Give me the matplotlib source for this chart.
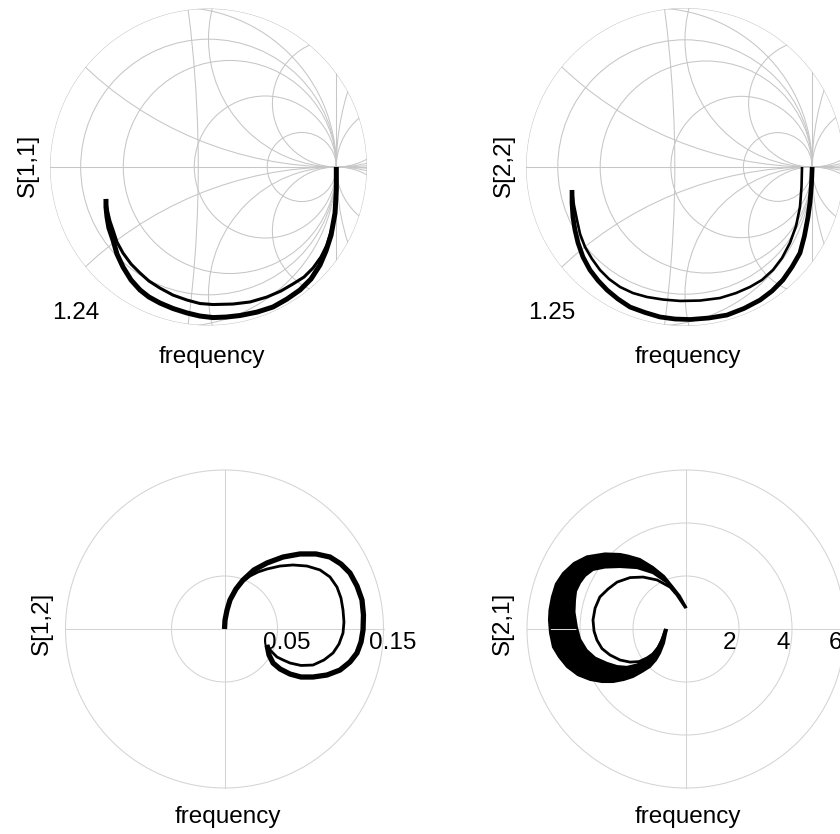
import numpy as np
import matplotlib.pyplot as plt
from matplotlib.patches import Circle

plt.rcParams['font.family'] = ['Liberation Sans', 'DejaVu Sans']

W, H, DPI = 840, 834, 100
FS = 17.5
GRID = '#c6c6c6'
PGRID = '#d4d4d4'

# reflection traces, complex plane (real, imag)
s11_outer_re = [1.0, 1.0, 0.990, 0.959, 0.919, 0.872, 0.802, 0.716, 0.614, 0.505, 0.380, 0.246, 0.137, 0.035,
                -0.067, -0.168, -0.278, -0.380, -0.466, -0.536, -0.606, -0.669, -0.716, -0.747, -0.779, -0.794,
                -0.802, -0.802]
s11_outer_im = [0.0, -0.18, -0.360, -0.532, -0.657, -0.767, -0.876, -0.962, -1.033, -1.095, -1.135, -1.162, -1.174,
                -1.178, -1.166, -1.142, -1.107, -1.064, -1.017, -0.962, -0.884, -0.782, -0.681, -0.571, -0.477,
                -0.391, -0.313, -0.250]
s11_inner_re = [1.0, 1.0, 0.990, 0.962, 0.927, 0.880, 0.818, 0.747, 0.661, 0.567, 0.458, 0.325, 0.192, 0.035,
                -0.067, -0.168, -0.278, -0.380, -0.466, -0.536, -0.606, -0.669, -0.716, -0.747, -0.771, -0.786,
                -0.798, -0.802]
s11_inner_im = [0.0, -0.18, -0.360, -0.493, -0.610, -0.704, -0.790, -0.861, -0.915, -0.970, -1.017, -1.056, -1.072,
                -1.076, -1.068, -1.041, -1.002, -0.947, -0.892, -0.829, -0.759, -0.673, -0.587, -0.493, -0.423,
                -0.360, -0.297, -0.250]

s22_outer_re = [1.0, 0.994, 0.983, 0.967, 0.939, 0.904, 0.841, 0.770, 0.684, 0.590, 0.464, 0.330, 0.189, 0.039,
                -0.079, -0.197, -0.314, -0.432, -0.527, -0.613, -0.684, -0.747, -0.802, -0.841, -0.865, -0.881,
                -0.888, -0.888]
s22_outer_im = [0.0, -0.142, -0.275, -0.393, -0.542, -0.676, -0.786, -0.888, -0.975, -1.046, -1.112, -1.164, -1.187,
                -1.199, -1.195, -1.179, -1.144, -1.101, -1.038, -0.967, -0.892, -0.810, -0.708, -0.597, -0.495,
                -0.393, -0.283, -0.181]
s22_inner_re = [0.920, 0.916, 0.904, 0.873, 0.825, 0.763, 0.692, 0.605, 0.511, 0.401, 0.275, 0.118, -0.039, -0.173,
                -0.299, -0.409, -0.511, -0.597, -0.668, -0.731, -0.786, -0.825, -0.849, -0.873, -0.888]
s22_inner_im = [0.0, -0.157, -0.314, -0.464, -0.597, -0.715, -0.809, -0.888, -0.943, -0.991, -1.030, -1.050, -1.053,
                -1.042, -1.022, -0.991, -0.943, -0.881, -0.810, -0.723, -0.629, -0.527, -0.417, -0.299, -0.181]

# transmission traces
s12_outer_re = [0.0, 0.0005, 0.0024, 0.0052, 0.0108, 0.0175, 0.0278, 0.0401, 0.0552, 0.0712, 0.0863, 0.0995,
                0.1099, 0.1184, 0.1250, 0.1297, 0.1311, 0.1307, 0.1288, 0.1250, 0.1184, 0.1090, 0.0967, 0.0835,
                0.0722, 0.0618, 0.0524, 0.0458, 0.0420, 0.0401]
s12_outer_im = [0.0, 0.0085, 0.0179, 0.0274, 0.0377, 0.0462, 0.0557, 0.0623, 0.0679, 0.0708, 0.0708, 0.0679,
                0.0613, 0.0528, 0.0406, 0.0274, 0.0132, -0.0009, -0.0123, -0.0226, -0.0311, -0.0387, -0.0434,
                -0.0453, -0.0453, -0.0425, -0.0377, -0.0321, -0.0245, -0.0151]
s12_inner_re = [0.0, 0.0005, 0.0024, 0.0052, 0.0099, 0.0156, 0.0241, 0.0316, 0.0401, 0.0524, 0.0646, 0.0778,
                0.0901, 0.0995, 0.1061, 0.1099, 0.1118, 0.1127, 0.1118, 0.1080, 0.1024, 0.0939, 0.0835, 0.0722,
                0.0618, 0.0552, 0.0495, 0.0439, 0.0401]
s12_inner_im = [0.0, 0.0085, 0.0179, 0.0274, 0.0368, 0.0434, 0.0500, 0.0538, 0.0566, 0.0594, 0.0604, 0.0594,
                0.0557, 0.0491, 0.0396, 0.0292, 0.0179, 0.0066, -0.0038, -0.0142, -0.0226, -0.0292, -0.0340,
                -0.0344, -0.0321, -0.0292, -0.0264, -0.0208, -0.0151]

# S21 family: outer and inner edge of the dense band, plus the lone inner trace
s21_outer_re = [0.0, -0.23, -0.49, -0.83, -1.25, -1.74, -2.19, -2.49, -3.06, -3.74, -4.23, -4.64, -4.91, -5.06,
                -5.15, -5.17, -5.13, -5.02, -4.79, -4.49, -4.08, -3.62, -3.17, -2.75, -2.34, -2.00, -1.66, -1.36,
                -1.13, -0.98, -0.83, -0.75, -0.72]
s21_outer_im = [0.83, 1.25, 1.58, 2.00, 2.34, 2.64, 2.77, 2.83, 2.85, 2.74, 2.49, 2.11, 1.70, 1.21, 0.72, 0.34,
                -0.15, -0.68, -1.06, -1.43, -1.74, -1.92, -2.00, -2.00, -1.92, -1.81, -1.62, -1.43, -1.17, -0.91,
                -0.53, -0.15, -0.04]
s21_band_re = [0.0, -0.34, -0.75, -1.25, -1.85, -2.49, -3.06, -3.51, -3.81, -4.00, -4.15, -4.19, -4.21, -4.12,
               -4.00, -3.75, -3.43, -2.98, -2.60, -2.23, -1.85, -1.47, -1.25, -1.06, -0.91, -0.79]
s21_band_im = [0.83, 1.32, 1.77, 2.11, 2.30, 2.34, 2.32, 2.23, 2.00, 1.74, 1.43, 1.09, 0.64, 0.08, -0.38, -0.79,
               -1.08, -1.28, -1.40, -1.43, -1.34, -1.17, -0.94, -0.68, -0.38, -0.04]
s21_inner_re = [-0.04, -0.34, -0.60, -1.09, -1.62, -2.11, -2.60, -2.94, -3.25, -3.43, -3.51, -3.47, -3.36, -3.17,
                -2.87, -2.49, -2.11, -1.77, -1.47, -1.25, -1.06, -0.94, -0.87, -0.79]
s21_inner_im = [0.83, 1.28, 1.58, 1.85, 1.96, 1.94, 1.77, 1.51, 1.21, 0.79, 0.34, -0.08, -0.42, -0.74, -0.98,
                -1.17, -1.25, -1.23, -1.09, -0.94, -0.72, -0.49, -0.30, -0.04]

# chart grid: resistance / reactance circles, plus one wide arc near the imaginary axis
smith_r = [0, 0.2, 0.8, 2.7, -0.2, -1, -1.5, -3]
smith_x = [0.35, -0.35, 1, -1, 2, -2]
smith_wide = (-9.7, 9.62)
s12_rings = [0.05, 0.15]
s21_rings = [2, 4, 6]


def make_axes(fig, cx, cy, rpx, rmax):
    pad = 1.03
    half = rpx * pad
    ax = fig.add_axes([(cx - half) / W, 1 - (cy + half) / H, 2 * half / W, 2 * half / H])
    ax.set_xlim(-rmax * pad, rmax * pad)
    ax.set_ylim(-rmax * pad, rmax * pad)
    ax.set_aspect('equal')
    ax.axis('off')
    return ax


def smith_grid(ax, rmax):
    clip = Circle((0, 0), rmax, transform=ax.transData)
    arts = [Circle((0, 0), rmax, fill=False), Circle((smith_wide[0], 0), smith_wide[1], fill=False)]
    for r in smith_r:
        if r == -1:
            arts += ax.plot([1, 1], [-2, 2])
        else:
            arts.append(Circle((r / (1 + r), 0), 1 / abs(1 + r), fill=False))
    for x in smith_x:
        arts.append(Circle((1, 1 / x), 1 / abs(x), fill=False))
    arts += ax.plot([-rmax, rmax], [0, 0])
    for a in arts:
        if isinstance(a, Circle):
            ax.add_patch(a)
            a.set_edgecolor(GRID)
        else:
            a.set_color(GRID)
        a.set_linewidth(0.75)
        a.set_clip_path(clip)
    ax.annotate(f'{rmax:.2f}', (-0.84 * rmax, -0.92 * rmax), ha='center', va='center', fontsize=FS)


def polar_grid(ax, rings, labels, dx):
    rmax = rings[-1]
    for r, lab in zip(rings, labels):
        ax.add_patch(Circle((0, 0), r, fill=False, ec=PGRID, lw=0.75))
        ax.annotate(lab, (r, 0), xytext=(dx, -14), textcoords='offset pixels',
                    ha='center', va='center', fontsize=FS, annotation_clip=False)
    ax.plot([-rmax, rmax], [0, 0], color=PGRID, lw=0.75)
    ax.plot([0, 0], [-rmax, rmax], color=PGRID, lw=0.75)


fig = plt.figure(figsize=(W / DPI, H / DPI), dpi=DPI)

ax11 = make_axes(fig, 208.5, 167, 158.5, 1.24)
smith_grid(ax11, 1.24)
ax11.plot(s11_outer_re, s11_outer_im, color='black', lw=3.6, solid_capstyle='butt')
ax11.plot(s11_inner_re, s11_inner_im, color='black', lw=2.2, solid_capstyle='butt')

ax22 = make_axes(fig, 685, 167, 159, 1.25)
smith_grid(ax22, 1.25)
ax22.plot(s22_outer_re, s22_outer_im, color='black', lw=3.4, solid_capstyle='butt')
ax22.plot(s22_inner_re, s22_inner_im, color='black', lw=1.9, solid_capstyle='butt')

ax12 = make_axes(fig, 224.5, 629, 159, s12_rings[-1])
polar_grid(ax12, s12_rings, ['0.05', '0.15'], 9)
ax12.plot(s12_outer_re, s12_outer_im, color='black', lw=3.8, solid_capstyle='butt')
ax12.plot(s12_inner_re, s12_inner_im, color='black', lw=2.0, solid_capstyle='butt')

ax21 = make_axes(fig, 686, 629, 159, s21_rings[-1])
polar_grid(ax21, s21_rings, ['2', '4', '6'], -9)
ax21.fill(np.r_[s21_outer_re, s21_band_re[::-1]], np.r_[s21_outer_im, s21_band_im[::-1]],
          color='black', lw=0)
ax21.plot(s21_outer_re, s21_outer_im, color='black', lw=1.5)
ax21.plot(s21_band_re, s21_band_im, color='black', lw=1.5)
ax21.plot(s21_inner_re, s21_inner_im, color='black', lw=2.0)

# axis titles
for (x, y), txt in zip([(28, 165), (504, 165), (42, 623), (503, 623)],
                       ['S[1,1]', 'S[2,2]', 'S[1,2]', 'S[2,1]']):
    fig.text(x / W, 1 - y / H, txt, rotation=90, ha='center', va='center', fontsize=FS)
for (x, y) in [(212, 357), (688, 357), (228, 817), (688, 817)]:
    fig.text(x / W, 1 - y / H, 'frequency', ha='center', va='center', fontsize=FS)

fig.savefig('out.png', dpi=DPI)
